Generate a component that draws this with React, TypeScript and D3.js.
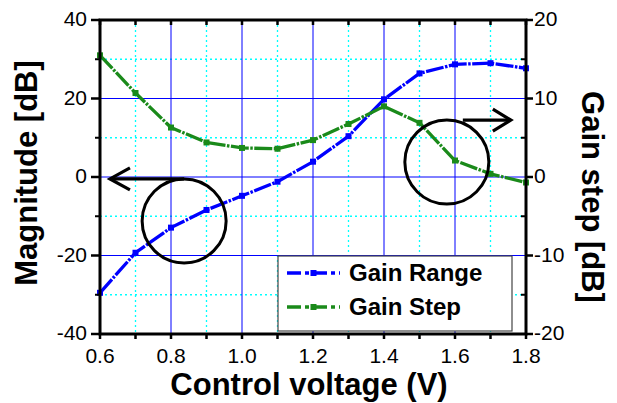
import React, { useEffect, useRef } from "react";
import * as d3 from "d3";

// control voltage (V)
const voltage = [0.6, 0.7, 0.8, 0.9, 1.0, 1.1, 1.2, 1.3, 1.4, 1.5, 1.6, 1.7, 1.8];
// left axis, magnitude [dB]
const gainRange = [-29.5, -19.3, -12.9, -8.4, -4.8, -1.2, 3.9, 10.4, 19.8, 26.4, 28.7, 29.0, 27.7];
// right axis, gain step [dB]
const gainStep = [15.5, 10.7, 6.3, 4.4, 3.7, 3.6, 4.7, 6.75, 9.0, 6.9, 2.1, 0.4, -0.7];

const xTicks = [0.6, 0.8, 1.0, 1.2, 1.4, 1.6, 1.8];
const xMinor = [0.7, 0.9, 1.1, 1.3, 1.5, 1.7];
const leftTicks = [-40, -20, 0, 20, 40];
const leftMinor = [-30, -10, 10, 30];
const rightTicks = [-20, -10, 0, 10, 20];
const rightMinor = [-15, -5, 5, 15];

const seriesNames = ["Gain Range", "Gain Step"];
const seriesColors = ["#0000ff", "#1a8a1a"];

const W = 617;
const H = 403;
const FONT = "'Liberation Sans', Arial, sans-serif";

export default function App() {
  const ref = useRef<SVGSVGElement | null>(null);

  useEffect(() => {
    const svg = d3.select(ref.current);
    svg.selectAll("*").remove();

    const left = 100, right = 526, top = 20, bottom = 334;
    const x = d3.scaleLinear().domain([0.6, 1.8]).range([left, right]);
    const yL = d3.scaleLinear().domain([-40, 40]).range([bottom, top]);
    const yR = d3.scaleLinear().domain([-20, 20]).range([bottom, top]);

    // grid
    const grid = svg.append("g");
    grid.selectAll("line.xmin").data(xMinor).enter().append("line")
      .attr("x1", d => x(d)).attr("x2", d => x(d)).attr("y1", top).attr("y2", bottom)
      .attr("stroke", "#00ffff").attr("stroke-width", 1.3).attr("stroke-dasharray", "2,3");
    grid.selectAll("line.ymin").data(leftMinor).enter().append("line")
      .attr("x1", left).attr("x2", right).attr("y1", d => yL(d)).attr("y2", d => yL(d))
      .attr("stroke", "#00ffff").attr("stroke-width", 1.3).attr("stroke-dasharray", "2,3");
    grid.selectAll("line.xmaj").data(xTicks.slice(1, -1)).enter().append("line")
      .attr("x1", d => x(d)).attr("x2", d => x(d)).attr("y1", top).attr("y2", bottom)
      .attr("stroke", "#0000ff").attr("stroke-width", 1);
    grid.selectAll("line.ymaj").data(leftTicks.slice(1, -1)).enter().append("line")
      .attr("x1", left).attr("x2", right).attr("y1", d => yL(d)).attr("y2", d => yL(d))
      .attr("stroke", "#0000ff").attr("stroke-width", 1);

    // series
    const pts = [
      voltage.map((v, i) => [x(v), yL(gainRange[i])] as [number, number]),
      voltage.map((v, i) => [x(v), yR(gainStep[i])] as [number, number]),
    ];
    const line = d3.line<[number, number]>().curve(d3.curveLinear);
    pts.forEach((p, k) => {
      svg.append("path")
        .attr("d", line(p))
        .attr("fill", "none")
        .attr("stroke", seriesColors[k])
        .attr("stroke-width", 3.3)
        .attr("stroke-dasharray", "18,1.5,2.5,1.5");
      svg.selectAll(null).data(p).enter().append("rect")
        .attr("x", d => d[0] - 3).attr("y", d => d[1] - 3)
        .attr("width", 6).attr("height", 6)
        .attr("fill", seriesColors[k]);
    });

    // axes frame
    const ax = svg.append("g").attr("stroke", "#000").attr("fill", "none");
    ax.append("rect").attr("x", left).attr("y", top).attr("width", right - left).attr("height", bottom - top)
      .attr("stroke-width", 3);

    // bottom ticks outward, top ticks inward
    [...xTicks, ...xMinor].forEach(t => {
      ax.append("line").attr("x1", x(t)).attr("x2", x(t)).attr("y1", bottom).attr("y2", bottom + 5).attr("stroke-width", 2.5);
      ax.append("line").attr("x1", x(t)).attr("x2", x(t)).attr("y1", top).attr("y2", top + 5).attr("stroke-width", 2.5);
    });
    leftTicks.forEach(t => {
      ax.append("line").attr("x1", left - 9).attr("x2", left).attr("y1", yL(t)).attr("y2", yL(t)).attr("stroke-width", 2.5);
    });
    leftMinor.forEach(t => {
      ax.append("line").attr("x1", left - 5).attr("x2", left).attr("y1", yL(t)).attr("y2", yL(t)).attr("stroke-width", 2);
    });
    rightTicks.forEach(t => {
      ax.append("line").attr("x1", right).attr("x2", right + 7).attr("y1", yR(t)).attr("y2", yR(t)).attr("stroke-width", 2.5);
    });
    rightMinor.forEach(t => {
      ax.append("line").attr("x1", right).attr("x2", right - 5).attr("y1", yR(t)).attr("y2", yR(t)).attr("stroke-width", 2);
    });

    // tick labels
    const lab = svg.append("g").style("font-family", FONT).style("font-size", "21px").attr("fill", "#000");
    lab.selectAll(null).data(xTicks).enter().append("text")
      .attr("x", d => x(d)).attr("y", bottom + 29).attr("text-anchor", "middle")
      .text(d => d3.format(".1f")(d));
    lab.selectAll(null).data(leftTicks).enter().append("text")
      .attr("x", left - 13).attr("y", d => yL(d) + 6).attr("text-anchor", "end")
      .text(d => String(d));
    lab.selectAll(null).data(rightTicks).enter().append("text")
      .attr("x", right + 8).attr("y", d => yR(d) + 6).attr("text-anchor", "start")
      .text(d => String(d));

    // axis titles
    const title = svg.append("g").style("font-family", FONT).style("font-size", "31px").style("font-weight", "bold");
    title.append("text").attr("x", 309).attr("y", 395).attr("text-anchor", "middle").text("Control voltage (V)");
    title.append("text").attr("transform", "translate(37,173) rotate(-90)").attr("text-anchor", "middle").text("Magnitude [dB]");
    title.append("text").attr("transform", "translate(582,197) rotate(90)").attr("text-anchor", "middle").text("Gain step [dB]");

    // annotation circles and arrows
    const ann = svg.append("g").attr("stroke", "#000").attr("fill", "none").attr("stroke-width", 3);
    const cL = [x(0.837), yL(-11.2)];
    const cR = [x(1.577), yL(3.8)];
    const r = 42;
    ann.append("circle").attr("cx", cL[0]).attr("cy", cL[1]).attr("r", r);
    ann.append("circle").attr("cx", cR[0]).attr("cy", cR[1]).attr("r", r);
    const aw = 3.2;
    const yAL = cL[1] - r;
    const xl1 = x(0.628);
    ann.append("line").attr("x1", cL[0]).attr("x2", xl1).attr("y1", yAL).attr("y2", yAL).attr("stroke-width", aw);
    ann.append("polyline").attr("points", `${xl1 + 20},${yAL - 11} ${xl1},${yAL} ${xl1 + 20},${yAL + 11}`).attr("stroke-width", aw);
    const yAR = cR[1] - r;
    const xr0 = cR[0] + 16;
    const xr1 = xr0 + 48;
    ann.append("line").attr("x1", xr0).attr("x2", xr1).attr("y1", yAR).attr("y2", yAR).attr("stroke-width", aw);
    ann.append("polyline").attr("points", `${xr1 - 18},${yAR - 11} ${xr1},${yAR} ${xr1 - 18},${yAR + 11}`).attr("stroke-width", aw);

    // legend
    const lg = svg.append("g");
    lg.append("rect").attr("x", 278).attr("y", 256).attr("width", 234).attr("height", 75)
      .attr("fill", "#fff").attr("stroke", "#444").attr("stroke-width", 1.2);
    seriesNames.forEach((name, k) => {
      const yy = 273 + k * 34;
      lg.append("line").attr("x1", 287).attr("x2", 340).attr("y1", yy).attr("y2", yy)
        .attr("stroke", seriesColors[k]).attr("stroke-width", 3.3).attr("stroke-dasharray", "14,4,4,4");
      lg.append("rect").attr("x", 310.5).attr("y", yy - 3).attr("width", 6).attr("height", 6).attr("fill", seriesColors[k]);
      lg.append("text").attr("x", 349).attr("y", yy + 8)
        .style("font-family", FONT).style("font-size", "24px").style("font-weight", "bold")
        .text(name);
    });
  }, []);

  return (
    <svg ref={ref} width={W} height={H}
      style={{ position: "absolute", left: 0, top: 0, background: "#fff" }} />
  );
}
